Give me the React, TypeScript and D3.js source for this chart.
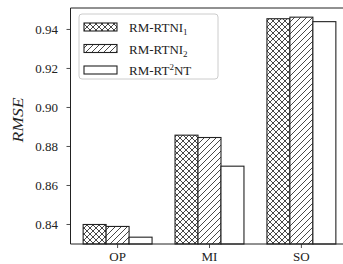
import * as d3 from "d3";

// data
const categories = ["OP", "MI", "SO"];
const seriesNames = ["RM-RTNI1", "RM-RTNI2", "RM-RT2NT"];
const rtni1 = [0.840, 0.8858, 0.9455];
const rtni2 = [0.839, 0.8846, 0.9463];
const rt2nt = [0.8335, 0.8699, 0.944];
const yTicks = [0.84, 0.86, 0.88, 0.9, 0.92, 0.94];

const W = 343;
const H = 264;
const left = 70.5;
const top = 8;
const bottom = 244;
const right = 348.5;

const barW = 0.25;
const x = d3.scaleLinear().domain([-0.5125, 2.5125]).range([left, right]);
const y = d3.scaleLinear().domain([0.83, 0.951]).range([bottom, top]);

const series = [rtni1, rtni2, rt2nt];
const fills = ["url(#hx)", "url(#hs)", "white"];
const font = "Liberation Serif, serif";
const hs = 6; // hatch spacing

function App() {
  return (
    <svg width={W} height={H} style={{ position: "absolute", left: 0, top: 0, background: "white", fontFamily: font }}>
      <defs>
        <pattern id="hx" patternUnits="userSpaceOnUse" width={hs} height={hs}>
          <rect width={hs} height={hs} fill="white" />
          <path
            d={`M0,0L${hs},${hs}M${hs},0L0,${hs}M-1,${hs - 1}L1,${hs + 1}M${hs - 1},-1L${hs + 1},1M-1,1L1,-1M${hs - 1},${hs + 1}L${hs + 1},${hs - 1}`}
            stroke="#333"
            strokeWidth={0.9}
          />
        </pattern>
        <pattern id="hs" patternUnits="userSpaceOnUse" width={hs} height={hs}>
          <rect width={hs} height={hs} fill="white" />
          <path d={`M0,${hs}L${hs},0M-1,1L1,-1M${hs - 1},${hs + 1}L${hs + 1},${hs - 1}`} stroke="#333" strokeWidth={0.9} />
        </pattern>
      </defs>

      {/* bars */}
      {series.map((vals, si) =>
        vals.map((v, ci) => {
          const cx = ci + (si - 1) * barW;
          const x0 = x(cx - barW / 2);
          const x1 = x(cx + barW / 2);
          return (
            <rect
              key={`${si}-${ci}`}
              x={x0}
              y={y(v)}
              width={x1 - x0}
              height={bottom - y(v)}
              fill={fills[si]}
              stroke="#222"
              strokeWidth={1.1}
            />
          );
        })
      )}

      {/* spines */}
      <line x1={left} x2={left} y1={top} y2={bottom} stroke="#222" strokeWidth={1} />
      <line x1={left} x2={right} y1={bottom} y2={bottom} stroke="#222" strokeWidth={1} />
      <line x1={left} x2={right} y1={top} y2={top} stroke="#222" strokeWidth={1} />
      <line x1={right} x2={right} y1={top} y2={bottom} stroke="#222" strokeWidth={1} />

      {/* y ticks */}
      {yTicks.map((t) => (
        <g key={t}>
          <line x1={left - 4} x2={left} y1={y(t)} y2={y(t)} stroke="#222" strokeWidth={0.8} />
          <text x={58} y={y(t)} dy="0.33em" textAnchor="end" fontSize={13} fill="#222">
            {d3.format(".2f")(t)}
          </text>
        </g>
      ))}

      {/* x ticks */}
      {categories.map((c, i) => (
        <g key={c}>
          <line x1={x(i)} x2={x(i)} y1={bottom} y2={bottom + 4} stroke="#222" strokeWidth={0.8} />
          <text x={x(i)} y={261} textAnchor="middle" fontSize={13} fill="#222">
            {c}
          </text>
        </g>
      ))}

      {/* y label */}
      <text
        transform={`translate(23,120) rotate(-90)`}
        textAnchor="middle"
        fontSize={14}
        fontStyle="italic"
        textLength={45}
        lengthAdjust="spacingAndGlyphs"
        fill="#222"
      >
        RMSE
      </text>

      {/* legend */}
      <rect x={79} y={14} width={139} height={65} rx={3} fill="white" fillOpacity={0.8} stroke="#ccc" strokeWidth={1} />
      {seriesNames.map((name, i) => {
        const ry = 23 + i * 21.5;
        return (
          <g key={name}>
            <rect x={84} y={ry} width={33} height={8} fill={fills[i]} stroke="#222" strokeWidth={1.1} />
            <text x={129} y={ry + 9} fontSize={13} fill="#222">
              {i === 2 ? (
                <>
                  RM-RT<tspan dy={-5} fontSize={9}>2</tspan>
                  <tspan dy={5}>NT</tspan>
                </>
              ) : (
                <>
                  RM-RTNI<tspan dy={3} fontSize={9}>{i + 1}</tspan>
                </>
              )}
            </text>
          </g>
        );
      })}
    </svg>
  );
}

export default App;
